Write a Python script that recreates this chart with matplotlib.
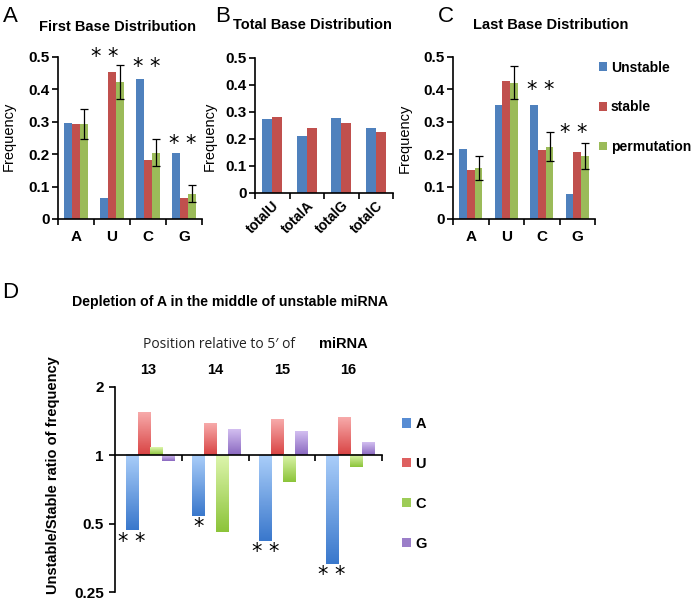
import numpy as np
import matplotlib
matplotlib.use('Agg')
import matplotlib.pyplot as plt
from matplotlib.colors import LinearSegmentedColormap
from matplotlib.patches import Patch

plt.rcParams['font.family'] = ['Liberation Sans', 'DejaVu Sans']

# ---- data: panels A-C ----
bases = ['A', 'U', 'C', 'G']
groups = ['Unstable', 'stable', 'permutation']

first_unstable = [0.295, 0.065, 0.432, 0.203]
first_stable = [0.293, 0.455, 0.183, 0.066]
first_perm = [0.293, 0.422, 0.205, 0.078]
first_perm_err = [0.047, 0.052, 0.042, 0.027]
first_stars = [(1, -0.19, 0.50), (2, -0.04, 0.47), (3, -0.03, 0.233)]

total_labels = ['totalU', 'totalA', 'totalG', 'totalC']
total_unstable = [0.272, 0.210, 0.277, 0.238]
total_stable = [0.280, 0.238, 0.257, 0.223]

last_unstable = [0.215, 0.352, 0.352, 0.078]
last_stable = [0.151, 0.427, 0.212, 0.207]
last_perm = [0.157, 0.421, 0.223, 0.194]
last_perm_err = [0.037, 0.052, 0.044, 0.040]
last_stars = [(2, -0.04, 0.397), (3, -0.11, 0.265)]

# ---- data: panel D ----
positions = ['13', '14', '15', '16']
ratio_A = [0.467, 0.541, 0.420, 0.332]
ratio_U = [1.54, 1.38, 1.43, 1.46]
ratio_C = [1.08, 0.459, 0.76, 0.884]
ratio_G = [0.944, 1.29, 1.27, 1.14]
stars_D = ['**', '*', '**', '**']

bar_colors = ['#4F81BD', '#C0504D', '#9BBB59']
grad_colors = {
    'A': ('#A9CDF9', '#3A78CC'),
    'U': ('#F7AAAA', '#D94444'),
    'C': ('#DDF5AC', '#8CC43A'),
    'G': ('#D2BEF0', '#8A68C0'),
}

W, H = 697, 603
fig = plt.figure(figsize=(W / 100, H / 100), dpi=100)


def px_axes(x0, x1, ytop, ybot):
    return fig.add_axes([x0 / W, 1 - ybot / H, (x1 - x0) / W, (ybot - ytop) / H])


def style_freq_axis(ax, labelx, labely):
    ax.set_ylim(0, 0.5)
    ax.set_xlim(-0.5, 3.5)
    ax.set_yticks(np.arange(0, 0.51, 0.1))
    ax.set_yticklabels(['0', '0.1', '0.2', '0.3', '0.4', '0.5'],
                       fontsize=11, fontweight='bold')
    ax.spines['top'].set_visible(False)
    ax.spines['right'].set_visible(False)
    ax.tick_params(axis='y', direction='out', length=4, width=1.2, pad=2)
    ax.set_xticks(np.arange(-0.5, 3.6, 1), minor=True)
    ax.tick_params(axis='x', which='minor', direction='out', length=4, width=1.2)
    ax.tick_params(axis='x', which='major', length=0, pad=8)
    for s in ['left', 'bottom']:
        ax.spines[s].set_linewidth(1.2)
    ax.set_ylabel('Frequency', fontsize=10.5)
    ax.yaxis.set_label_coords(labelx, labely)


def three_bar_panel(ax, uns, sta, perm, err, stars):
    x = np.arange(len(bases))
    w = 0.22
    ax.bar(x - w, uns, w, color=bar_colors[0])
    ax.bar(x, sta, w, color=bar_colors[1])
    ax.bar(x + w, perm, w, color=bar_colors[2])
    ax.errorbar(x + w, perm, yerr=err, fmt='none', ecolor='black',
                elinewidth=0.9, capsize=3, capthick=0.9)
    ax.set_xticks(x)
    ax.set_xticklabels(bases, fontsize=11, fontweight='bold')
    for i, dx, y in stars:
        ax.text(i + dx, y, '* *', ha='center', va='center', fontsize=15,
                family='DejaVu Sans')


# Panel A
axA = px_axes(58, 202, 57, 219)
three_bar_panel(axA, first_unstable, first_stable, first_perm, first_perm_err, first_stars)
style_freq_axis(axA, -0.29, 0.51)

# Panel B
axB = px_axes(255, 393, 57.7, 192.7)
xb = np.arange(len(total_labels))
axB.bar(xb - 0.145, total_unstable, 0.29, color=bar_colors[0])
axB.bar(xb + 0.145, total_stable, 0.29, color=bar_colors[1])
style_freq_axis(axB, -0.275, 0.42)
axB.set_xticks(xb)
axB.set_xticklabels(total_labels, rotation=45, ha='right', rotation_mode='anchor',
                    fontsize=10, fontweight='bold')
axB.tick_params(axis='x', which='major', pad=4)

# Panel C
axC = px_axes(453, 595, 57, 219)
three_bar_panel(axC, last_unstable, last_stable, last_perm, last_perm_err, last_stars)
style_freq_axis(axC, -0.29, 0.50)

for title, x, y in [('First Base Distribution', 117, 27),
                    ('Total Base Distribution', 312, 25),
                    ('Last Base Distribution', 551, 25)]:
    fig.text(x / W, 1 - y / H, title, ha='center', va='center',
             fontsize=10.5, fontweight='bold')

handles = [Patch(facecolor=c, edgecolor='none') for c in bar_colors]
fig.legend(handles, groups, loc='upper left', bbox_to_anchor=(586 / W, 1 - 48 / H),
           frameon=False, prop={'weight': 'bold', 'size': 10},
           handlelength=0.6, handleheight=0.6, handletextpad=0.3, labelspacing=1.85)

# Panel D (log2 scale drawn in log2 units)
axD = px_axes(115, 382, 387, 592)
xd = np.arange(len(positions))
bw = 0.18
series = [('A', ratio_A), ('U', ratio_U), ('C', ratio_C), ('G', ratio_G)]
for k, (name, vals) in enumerate(series):
    lv = np.log2(vals)
    bars = axD.bar(xd + (k - 1.5) * bw + 0.02, lv, bw, color='none')
    cmap = LinearSegmentedColormap.from_list(name, [grad_colors[name][1], grad_colors[name][0]])
    for b in bars:
        x0 = b.get_x()
        y0 = min(b.get_y(), b.get_y() + b.get_height())
        y1 = max(b.get_y(), b.get_y() + b.get_height())
        grad = np.linspace(0, 1, 64).reshape(-1, 1)
        axD.imshow(grad, extent=[x0, x0 + bw, y0, y1], origin='lower',
                   aspect='auto', cmap=cmap, zorder=1)
    if name == 'A':
        for i, v in enumerate(lv):
            axD.annotate(' '.join(stars_D[i]), (xd[i] + (k - 1.5) * bw + 0.02, v),
                         xytext=(0, -1), textcoords='offset points',
                         ha='center', va='top', fontsize=15, family='DejaVu Sans')

axD.set_xlim(-0.5, 3.5)
axD.set_ylim(-2, 1)
axD.set_yticks([-2, -1, 0, 1])
axD.set_yticklabels(['0.25', '0.5', '1', '2'], fontsize=11, fontweight='bold')
axD.spines['top'].set_visible(False)
axD.spines['right'].set_visible(False)
axD.spines['bottom'].set_position(('data', 0))
axD.spines['bottom'].set_zorder(3)
for s in ['left', 'bottom']:
    axD.spines[s].set_linewidth(1.2)
axD.set_xticks([])
axD.set_xticks(np.arange(0.5, 3.6, 1), minor=True)
axD.tick_params(axis='x', which='minor', direction='out', length=4, width=1.2)
axD.tick_params(axis='y', direction='out', length=4, width=1.2, pad=4)
axD.set_ylabel('Unstable/Stable ratio of frequency', fontsize=10.5, fontweight='bold')
axD.yaxis.set_label_coords(-0.205, 0.57)
for i, p in enumerate(positions):
    axD.text(xd[i], 1.083, p, transform=axD.get_xaxis_transform(),
             ha='center', va='center', fontsize=10.5, fontweight='bold')
axD.text(219 / W, 1 - 344 / H, 'Position relative to 5\u2032 of', transform=fig.transFigure,
         ha='center', va='center', fontsize=10, family=['Open Sans', 'DejaVu Sans'],
         color='#222222')
axD.text(343 / W, 1 - 344 / H, 'miRNA', transform=fig.transFigure,
         ha='center', va='center', fontsize=10.5, fontweight='bold')

d_handles = [Patch(facecolor=grad_colors[n][1], edgecolor='none', alpha=0.85)
             for n in ['A', 'U', 'C', 'G']]
fig.legend(d_handles, ['A', 'U', 'C', 'G'], loc='upper left',
           bbox_to_anchor=(389 / W, 1 - 404 / H), frameon=False,
           prop={'weight': 'bold', 'size': 10.5}, handlelength=0.6, handleheight=0.6,
           handletextpad=0.3, labelspacing=1.77)

# titles and panel letters
fig.text(230 / W, 1 - 302 / H, 'Depletion of A in the middle of unstable miRNA',
         ha='center', va='center', fontsize=10.2, fontweight='bold')
for letter, x, y in [('A', 3, 16), ('B', 215, 16), ('C', 438, 16), ('D', 2, 292)]:
    fig.text(x / W, 1 - y / H, letter, ha='left', va='center', fontsize=16)

fig.savefig('out.png', dpi=100)
